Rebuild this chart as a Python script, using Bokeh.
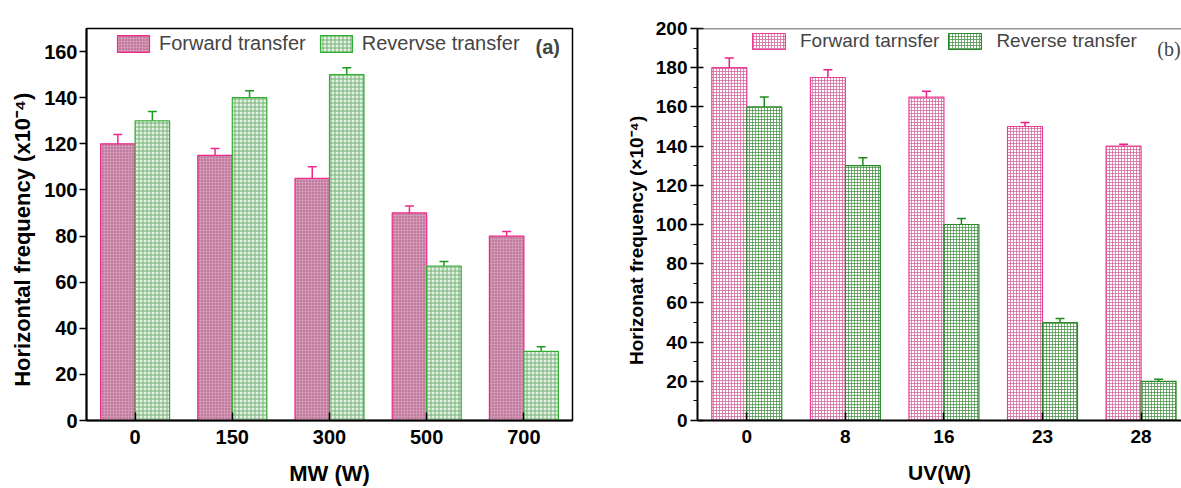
import math
from bokeh.plotting import figure
from bokeh.models import (Range1d, FixedTicker, SingleIntervalTicker, Whisker, TeeHead,
                          ColumnDataSource, Legend, LegendItem, Label, Span)
from bokeh.transform import dodge
from bokeh.layouts import row
from bokeh.embed import file_html
from bokeh.resources import INLINE

# ---- data ----
mw_levels = ["0", "150", "300", "500", "700"]
mw_forward = [120, 115, 105, 90, 80]
mw_forward_err = [4, 3, 5, 3, 2]
mw_reverse = [130, 140, 150, 67, 30]
mw_reverse_err = [4, 3, 3, 2, 2]

uv_levels = ["0", "8", "16", "23", "28"]
uv_forward = [180, 175, 165, 150, 140]
uv_forward_err = [5, 4, 3, 2, 1]
uv_reverse = [160, 130, 100, 50, 20]
uv_reverse_err = [5, 4, 3, 2, 1]

FONT = "Liberation Sans"
BW = 0.355
NB = "\u00a0"


def make_source(levels, fwd, fe, rev, re_):
    x = list(range(len(levels)))
    return ColumnDataSource(dict(
        x=x, fwd=fwd, rev=rev,
        fwd_lo=[v - e for v, e in zip(fwd, fe)], fwd_hi=[v + e for v, e in zip(fwd, fe)],
        rev_lo=[v - e for v, e in zip(rev, re_)], rev_hi=[v + e for v, e in zip(rev, re_)],
    ))


def style_axes(p, levels, tick_font, xlab_font, ylab_font):
    p.xaxis.ticker = FixedTicker(ticks=list(range(len(levels))))
    p.xaxis.major_label_overrides = {i: s for i, s in enumerate(levels)}
    for ax, lf in ((p.xaxis[0], xlab_font), (p.yaxis[0], ylab_font)):
        ax.major_label_text_font = FONT
        ax.major_label_text_font_style = "bold"
        ax.major_label_text_font_size = tick_font
        ax.major_label_text_color = "black"
        ax.axis_label_text_font = FONT
        ax.axis_label_text_font_style = "bold"
        ax.axis_label_text_font_size = lf
        ax.axis_label_text_color = "black"
        ax.axis_line_color = "black"
        ax.axis_line_width = 2
        ax.major_tick_line_color = "black"
        ax.major_tick_line_width = 1.5
        ax.minor_tick_line_color = "black"
    p.xaxis.major_tick_in = 8
    p.xaxis.major_tick_out = 0
    p.xaxis.minor_tick_line_color = None
    p.xgrid.visible = False
    p.ygrid.visible = False


def add_bars(p, src, fstyle, rstyle, fcol, rcol):
    rf = p.vbar(x=dodge("x", -BW / 2, range=p.x_range), top="fwd", width=BW, bottom=0,
                source=src, **fstyle)
    rr = p.vbar(x=dodge("x", BW / 2, range=p.x_range), top="rev", width=BW, bottom=0,
                source=src, **rstyle)
    for col, lo, hi, off in ((fcol, "fwd_lo", "fwd_hi", -BW / 2), (rcol, "rev_lo", "rev_hi", BW / 2)):
        w = Whisker(base=dodge("x", off, range=p.x_range), lower=lo, upper=hi, source=src,
                    line_color=col, line_width=1.5,
                    upper_head=TeeHead(size=9, line_color=col, line_width=1.5),
                    lower_head=TeeHead(size=9, line_color=col, line_width=1.5))
        p.add_layout(w)
    return rf, rr


# ---- panel (a) ----
src_a = make_source(mw_levels, mw_forward, mw_forward_err, mw_reverse, mw_reverse_err)
pa = figure(width=600, height=488, output_backend="svg", toolbar_location=None,
            x_range=Range1d(-0.5, 4.5), y_range=Range1d(0, 170),
            min_border_left=86, min_border_right=28, min_border_top=28, min_border_bottom=66)
pa.outline_line_color = "black"
pa.outline_line_width = 1.5
pa.outline_line_alpha = 1
style_axes(pa, mw_levels, "20px", "22px", "22px")
pa.yaxis.ticker = FixedTicker(ticks=list(range(0, 161, 20)))
pa.yaxis.major_tick_out = 7
pa.yaxis.major_tick_in = 0
pa.yaxis.major_label_standoff = 2
pa.yaxis.axis_label = "Horizontal frequency (x10⁻⁴)" + NB * 5
pa.yaxis.axis_label_standoff = 6
pa.xaxis.major_label_standoff = 9
pa.xaxis.axis_label = "MW (W)"
pa.xaxis.axis_label_standoff = 14

fa_style = dict(fill_color="#C27A9E", line_color="#F0288C", line_width=1.2,
                hatch_pattern="+", hatch_color="#D7A2BD", hatch_scale=3, hatch_weight=0.7)
ra_style = dict(fill_color="#E4F1E4", line_color="#30B030", line_width=1.2,
                hatch_pattern="+", hatch_color="#76B076", hatch_scale=4, hatch_weight=1)
rfa, rra = add_bars(pa, src_a, fa_style, ra_style, "#F0288C", "#1E9A1E")

leg_a = Legend(items=[LegendItem(label="Forward transfer", renderers=[rfa]),
                      LegendItem(label="Revervse transfer", renderers=[rra])],
               orientation="horizontal", location=(27, 365), glyph_width=40, glyph_height=21,
               label_height=21, label_text_font=FONT, label_text_font_size="20px",
               label_standoff=6, spacing=10,
               padding=0, margin=0, border_line_color=None, background_fill_alpha=0)
pa.add_layout(leg_a)
pa.add_layout(Label(x=4.12, y=161.8, text="(a)", text_font=FONT, text_font_style="bold",
                    text_font_size="20px", text_baseline="middle", text_align="left"))

# ---- panel (b) ----
src_b = make_source(uv_levels, uv_forward, uv_forward_err, uv_reverse, uv_reverse_err)
pb = figure(width=581, height=488, output_backend="svg", toolbar_location=None,
            x_range=Range1d(-0.5, 4.41), y_range=Range1d(0, 200),
            min_border_left=97, min_border_right=0, min_border_top=24, min_border_bottom=65)
pb.outline_line_color = None
style_axes(pb, uv_levels, "19px", "21px", "19px")
pb.yaxis.ticker = SingleIntervalTicker(interval=20, num_minor_ticks=2)
pb.yaxis.major_tick_out = 7
pb.yaxis.major_tick_in = 6
pb.yaxis.minor_tick_out = 4
pb.yaxis.minor_tick_in = 0
pb.yaxis.minor_tick_line_width = 1.2
pb.yaxis.major_label_standoff = 3
pb.yaxis.axis_label = "Horizonat frequency (×10⁻⁴)" + NB * 6
pb.yaxis.axis_label_standoff = 6
pb.xaxis.major_label_standoff = 9
pb.xaxis.axis_label = "UV(W)"
pb.xaxis.axis_label_standoff = 15
pb.add_layout(Span(location=200, dimension="width", line_color="#333333", line_width=1.5))

fb_style = dict(fill_color="white", line_color="#EE3C96", line_width=1.2,
                hatch_pattern="+", hatch_color="#D46A9E", hatch_scale=3, hatch_weight=0.8)
rb_style = dict(fill_color="white", line_color="#2A8A2A", line_width=1.2,
                hatch_pattern="+", hatch_color="#4E944E", hatch_scale=3, hatch_weight=0.8)
rfb, rrb = add_bars(pb, src_b, fb_style, rb_style, "#EE1C86", "#1E8A1E")

leg_b = Legend(items=[LegendItem(label="Forward tarnsfer", renderers=[rfb]),
                      LegendItem(label="Reverse transfer", renderers=[rrb])],
               orientation="horizontal", location=(51, 368), glyph_width=41, glyph_height=20,
               label_height=20, label_text_font=FONT, label_text_font_size="19px",
               label_standoff=11, spacing=5,
               padding=0, margin=0, border_line_color=None, background_fill_alpha=0)
pb.add_layout(leg_b)
pb.add_layout(Label(x=4.165, y=189.5, text="(b)", text_font="Liberation Serif",
                    text_font_size="20px", text_baseline="middle", text_align="left"))

layout = row(pa, pb)
open("out.html", "w").write(file_html(layout, INLINE))
